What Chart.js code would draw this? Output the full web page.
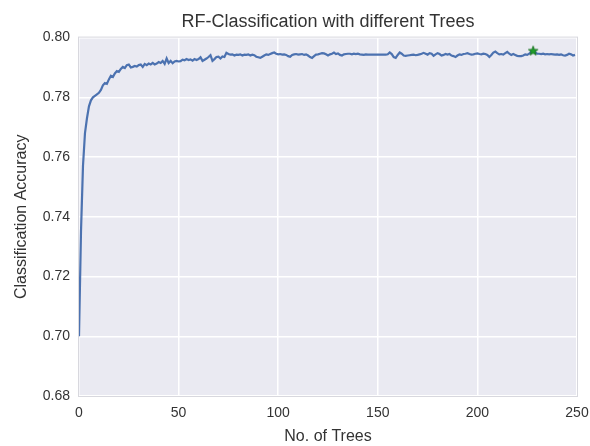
<!DOCTYPE html>
<html>
<head>
<meta charset="utf-8">
<script src="https://cdn.jsdelivr.net/npm/chart.js@4/dist/chart.umd.min.js"></script>
<style>
html,body{margin:0;padding:0;background:#fff;}
#wrap{width:590px;height:446px;position:relative;}
</style>
</head>
<body>
<div id="wrap"><canvas id="c" width="590" height="446"></canvas></div>
<script>
const accuracy = [
0.700,0.735,0.757,0.768,0.773,0.777,0.779,0.780,0.7805,0.781,
0.7815,0.7825,0.784,0.7848,0.7845,0.786,0.7872,0.7868,0.788,0.7888,
0.7885,0.7895,0.7902,0.7898,0.7908,0.7910,0.7900,0.7902,0.7905,0.7903,
0.7908,0.7910,0.7902,0.7912,0.7908,0.7913,0.7910,0.7915,0.7910,0.7913,
0.7918,0.7915,0.7922,0.7912,0.7930,0.7915,0.7922,0.7914,0.7920,0.7922,
0.7920,0.7921,0.7926,0.7924,0.7928,0.7925,0.7927,0.7923,0.7928,0.7925,
0.7928,0.7934,0.7922,0.7926,0.7930,0.7935,0.7941,0.7922,0.7928,0.7935,
0.7936,0.7930,0.7937,0.7935,0.7949,0.7945,0.7943,0.7944,0.7940,0.7943,
0.7942,0.7944,0.7940,0.7943,0.7942,0.7944,0.7940,0.7943,0.7941,0.7936,
0.7934,0.7932,0.7936,0.7940,0.7944,0.7942,0.7945,0.7948,0.7950,0.7946,
0.7944,0.7945,0.7943,0.7944,0.7942,0.7938,0.7936,0.7942,0.7944,0.7945,
0.7943,0.7944,0.7945,0.7942,0.7944,0.7940,0.7935,0.7932,0.7938,0.7943,
0.7944,0.7946,0.7948,0.7947,0.7944,0.7940,0.7944,0.7946,0.7950,0.7945,
0.7947,0.7942,0.7940,0.7944,0.7945,0.7946,0.7946,0.7944,0.7946,0.7945,
0.7946,0.7944,0.7943,0.7942,0.7944,0.7943,0.7943,0.7943,0.7943,0.7943,
0.7943,0.7943,0.7943,0.7943,0.7943,0.7944,0.7950,0.7945,0.7935,0.7932,
0.7942,0.7950,0.7946,0.7940,0.7939,0.7940,0.7941,0.7942,0.7943,0.7941,
0.7942,0.7944,0.7946,0.7949,0.7946,0.7943,0.7948,0.7946,0.7939,0.7944,
0.7948,0.7945,0.7940,0.7942,0.7945,0.7943,0.7945,0.7940,0.7938,0.7935,
0.7940,0.7944,0.7942,0.7945,0.7946,0.7948,0.7945,0.7943,0.7944,0.7946,
0.7947,0.7945,0.7944,0.7946,0.7945,0.7942,0.7935,0.7942,0.7950,0.7953,
0.7948,0.7944,0.7945,0.7943,0.7948,0.7952,0.7946,0.7942,0.7945,0.7942,
0.7939,0.7938,0.7938,0.7940,0.7944,0.7942,0.7946,0.7952,0.7957,0.7950,
0.7946,0.7946,0.7945,0.7946,0.7944,0.7945,0.7944,0.7945,0.7944,0.7943,
0.7944,0.7942,0.7944,0.7941,0.7940,0.7942,0.7946,0.7944,0.7940,0.7942
];
const trees = accuracy.map((v, i) => i);
const bestX = [228];
const bestY = [0.7957];
const xTicks = [0, 50, 100, 150, 200, 250];
const yTicks = [0.68, 0.70, 0.72, 0.74, 0.76, 0.78, 0.80];

// filled five-point star marker image
function starImage(size, fill, stroke) {
  const cv = document.createElement('canvas');
  cv.width = size; cv.height = size;
  const g = cv.getContext('2d');
  const cx = size / 2, cy = size / 2 + size * 0.05;
  const R = size / 2 - 1, r = R * 0.42;
  g.beginPath();
  for (let k = 0; k < 10; k++) {
    const a = -Math.PI / 2 + k * Math.PI / 5;
    const rr = k % 2 === 0 ? R : r;
    const px = cx + rr * Math.cos(a), py = cy + rr * Math.sin(a);
    if (k === 0) g.moveTo(px, py); else g.lineTo(px, py);
  }
  g.closePath();
  g.fillStyle = fill; g.fill();
  g.lineWidth = 0.8; g.strokeStyle = stroke; g.stroke();
  return cv;
}

const bgPlugin = {
  id: 'plotbg',
  beforeDraw(chart) {
    const {ctx, chartArea: a} = chart;
    ctx.save();
    ctx.fillStyle = '#EAEAF2';
    ctx.fillRect(a.left, a.top, a.right - a.left, a.bottom - a.top);
    ctx.restore();
  },
  afterDraw(chart) {
    const {ctx, chartArea: a} = chart;
    ctx.save();
    ctx.strokeStyle = '#d8d8de';
    ctx.lineWidth = 1;
    ctx.strokeRect(a.left - 0.5, a.top - 0.5, a.right - a.left + 1, a.bottom - a.top + 1);
    ctx.restore();
  }
};

const FONT = "'Liberation Sans', Arial, sans-serif";
const TXT = '#333333';

new Chart(document.getElementById('c'), {
  type: 'line',
  data: {
    datasets: [
      {
        data: trees.map((x, i) => ({x: x, y: accuracy[i]})),
        borderColor: '#4C72B0',
        borderWidth: 2.2,
        pointRadius: 0,
        tension: 0,
        fill: false,
        order: 2
      },
      {
        data: bestX.map((x, i) => ({x: x, y: bestY[i]})),
        showLine: false,
        pointStyle: starImage(12, '#1f9d2a', '#0f6a18'),
        pointRadius: 6,
        order: 1
      }
    ]
  },
  options: {
    responsive: false,
    animation: false,
    devicePixelRatio: 1,
    layout: {padding: {left: 0, right: 0, top: 0, bottom: 0}},
    plugins: {
      legend: {display: false},
      tooltip: {enabled: false},
      title: {
        display: true,
        fullSize: false,
        text: 'RF-Classification with different Trees',
        color: TXT,
        font: {family: FONT, size: 18, weight: 'normal'},
        padding: {top: 11, bottom: 5}
      }
    },
    scales: {
      x: {
        type: 'linear',
        min: 0, max: 250,
        afterBuildTicks(s) { s.ticks = xTicks.map(v => ({value: v})); },
        afterFit(s) { s.height = 50; s.paddingRight = 13; s.paddingLeft = 0; },
        grid: {color: '#ffffff', lineWidth: 1.5, drawTicks: false},
        border: {display: false},
        ticks: {color: TXT, font: {family: FONT, size: 14}, padding: 9, maxRotation: 0},
        title: {display: true, text: 'No. of Trees', color: TXT, font: {family: FONT, size: 16}, padding: {top: 3, bottom: 0}}
      },
      y: {
        min: 0.68, max: 0.80,
        afterBuildTicks(s) { s.ticks = yTicks.map(v => ({value: v})); },
        afterFit(s) { s.width = 79; },
        grid: {color: '#ffffff', lineWidth: 1.5, drawTicks: false},
        border: {display: false},
        ticks: {color: TXT, font: {family: FONT, size: 14}, padding: 9, callback: v => v.toFixed(2)},
        title: {display: true, text: 'Classification Accuracy', color: TXT, font: {family: FONT, size: 16}, padding: {top: 12, bottom: 0}}
      }
    }
  },
  plugins: [bgPlugin]
});
</script>
</body>
</html>
